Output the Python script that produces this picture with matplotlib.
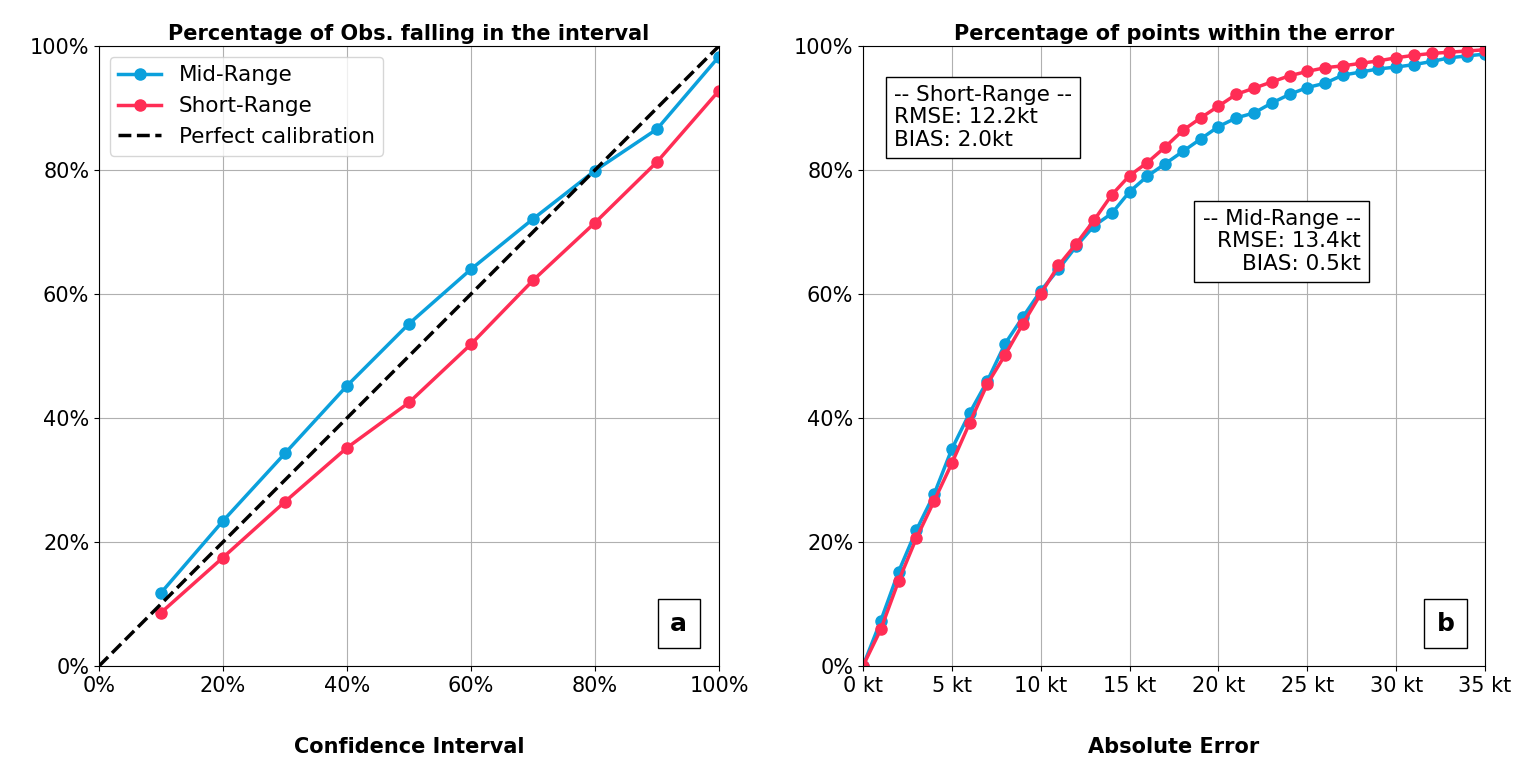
import numpy as np
import matplotlib.pyplot as plt
from matplotlib.ticker import FuncFormatter

# Panel a: calibration
conf_levels = [10, 20, 30, 40, 50, 60, 70, 80, 90, 100]
calib_mid = [11.8, 23.4, 34.3, 45.2, 55.2, 64.0, 72.1, 79.9, 86.6, 98.3]
calib_short = [8.6, 17.5, 26.5, 35.2, 42.5, 51.9, 62.2, 71.5, 81.3, 92.8]

# Panel b: cumulative error
err_kt = list(range(0, 36))
cum_mid = [0, 7.3, 15.2, 21.9, 27.7, 35.0, 40.8, 46.0, 52.0, 56.3, 60.5, 64.0, 67.7, 71.0,
           73.0, 76.5, 79.0, 81.0, 83.0, 85.0, 87.0, 88.4, 89.2, 90.8, 92.2, 93.3, 94.0,
           95.3, 95.8, 96.3, 96.6, 97.0, 97.5, 98.1, 98.4, 98.7]
cum_short = [0, 5.9, 13.7, 20.6, 26.6, 32.7, 39.2, 45.5, 50.2, 55.2, 60.0, 64.6, 68.1, 71.9,
             76.0, 79.1, 81.2, 83.7, 86.4, 88.4, 90.3, 92.2, 93.2, 94.2, 95.2, 95.9, 96.5,
             96.8, 97.2, 97.6, 98.1, 98.5, 98.8, 99.0, 99.2, 99.4]

blue = '#0ba0dc'
red = '#ff2d55'
plt.rcParams['font.size'] = 15

fig = plt.figure(figsize=(15.31, 7.74), dpi=100)
ax1 = fig.add_axes([99/1531, 108/774, 620/1531, 620/774])
ax2 = fig.add_axes([863/1531, 108/774, 622/1531, 620/774])

pct = FuncFormatter(lambda v, p: '%d%%' % v)

ax1.plot(conf_levels, calib_mid, '-o', color=blue, lw=2.5, ms=8, label='Mid-Range')
ax1.plot(conf_levels, calib_short, '-o', color=red, lw=2.5, ms=8, label='Short-Range')
ax1.plot([0, 100], [0, 100], '--', color='black', lw=2.5, label='Perfect calibration')
ax1.set_xlim(0, 100)
ax1.set_ylim(0, 100)
ax1.set_xticks(range(0, 101, 20))
ax1.set_yticks(range(0, 101, 20))
ax1.xaxis.set_major_formatter(pct)
ax1.yaxis.set_major_formatter(pct)
ax1.grid(True, color='#b0b0b0')
ax1.set_title('Percentage of Obs. falling in the interval', fontweight='bold', fontsize=15, pad=4)
ax1.set_xlabel('Confidence Interval', fontweight='bold', fontsize=15, labelpad=30)
ax1.legend(loc='upper left', fontsize=15.5)
ax1.text(0.935, 0.068, 'a', transform=ax1.transAxes, fontsize=18, fontweight='bold',
         ha='center', va='center', bbox=dict(facecolor='white', edgecolor='black', pad=9))

ax2.plot(err_kt, cum_mid, '-o', color=blue, lw=2.5, ms=8)
ax2.plot(err_kt, cum_short, '-o', color=red, lw=2.5, ms=8)
ax2.set_xlim(0, 35)
ax2.set_ylim(0, 100)
ax2.set_xticks(range(0, 36, 5))
ax2.set_yticks(range(0, 101, 20))
ax2.xaxis.set_major_formatter(FuncFormatter(lambda v, p: '%d kt' % v))
ax2.yaxis.set_major_formatter(pct)
ax2.grid(True, color='#b0b0b0')
ax2.set_title('Percentage of points within the error', fontweight='bold', fontsize=15, pad=4)
ax2.set_xlabel('Absolute Error', fontweight='bold', fontsize=15, labelpad=30)
ax2.text(0.05, 0.885, '-- Short-Range --\nRMSE: 12.2kt\nBIAS: 2.0kt', transform=ax2.transAxes,
         fontsize=15.5, ha='left', va='center', linespacing=1.15,
         bbox=dict(facecolor='white', edgecolor='black', pad=6))
ax2.text(0.80, 0.685, '-- Mid-Range --\nRMSE: 13.4kt\nBIAS: 0.5kt', transform=ax2.transAxes,
         fontsize=15.5, ha='right', va='center', multialignment='right', linespacing=1.15,
         bbox=dict(facecolor='white', edgecolor='black', pad=6))
ax2.text(0.937, 0.068, 'b', transform=ax2.transAxes, fontsize=18, fontweight='bold',
         ha='center', va='center', bbox=dict(facecolor='white', edgecolor='black', pad=9))

fig.savefig('out.png', dpi=100)
